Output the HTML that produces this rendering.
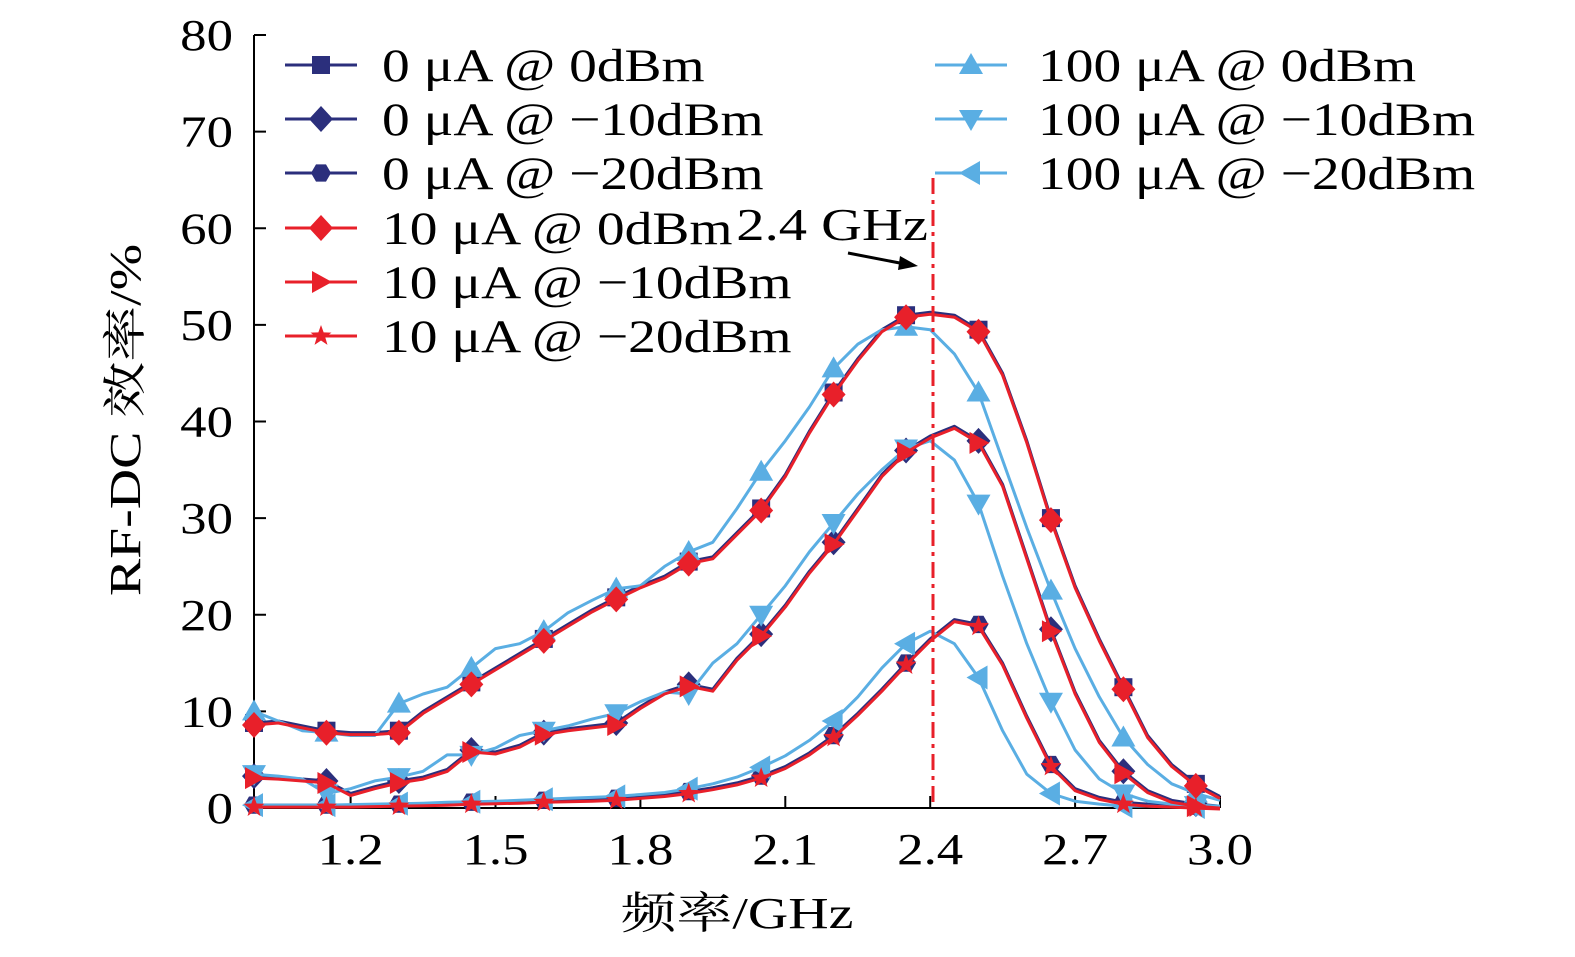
<!DOCTYPE html>
<html><head><meta charset="utf-8"><style>
html,body{margin:0;padding:0;background:#fff;}
svg{display:block;font-family:"Liberation Serif","Noto Serif CJK SC",serif;}
</style></head><body>
<svg id="chart" width="1575" height="957" viewBox="0 0 1575 957"></svg>
<script>
const freqs=[1.0,1.05,1.1,1.15,1.2,1.25,1.3,1.35,1.4,1.45,1.5,1.55,1.6,1.65,1.7,1.75,1.8,1.85,1.9,1.95,2.0,2.05,2.1,2.15,2.2,2.25,2.3,2.35,2.4,2.45,2.5,2.55,2.6,2.65,2.7,2.75,2.8,2.85,2.9,2.95,3.0];
const lowBias0dBm=[8.8,9,8.5,8,7.8,7.8,8,10,11.5,13,14.5,16,17.5,19,20.5,21.8,23,24,25.5,26,28.5,31,34.5,39,43,46.5,49.5,51,51.3,51,49.5,45,38,30,23,17.5,12.5,7.5,4.5,2.5,1.2];
const lowBiasM10=[3.3,3.2,3,2.8,1.5,2.2,2.8,3.2,4,6,5.8,6.5,7.8,8.2,8.5,8.8,10.5,12,12.8,12.3,15.5,18,21,24.5,27.5,31,34.5,37,38.5,39.5,38,33.5,26,18.5,12,7,3.8,1.8,0.8,0.4,0.2];
const lowBiasM20=[0.3,0.3,0.3,0.3,0.3,0.35,0.4,0.45,0.5,0.6,0.65,0.7,0.8,0.85,0.9,1.0,1.2,1.4,1.7,2.1,2.6,3.3,4.3,5.7,7.5,9.8,12.3,15,17.5,19.5,19,15,9.5,4.5,2,1.1,0.6,0.4,0.3,0.2,0.1];
const highBias0dBm=[10,9,8,7.8,7.5,7.5,10.8,11.8,12.5,14.5,16.5,17,18.3,20.2,21.5,22.7,23,25,26.5,27.5,31,34.8,38,41.5,45.5,48,49.5,49.8,49.5,47,43,36,29,22.5,16.5,11.5,7.3,4.5,2.5,1.5,0.8];
const highBiasM10=[3.5,3.3,3,1.5,2,2.8,3.2,3.8,5.5,5.5,6.2,7.5,8,8.5,9.2,9.8,11,12,11.8,15,17,20,23,26.5,29.5,32.5,35,37.2,38,36,31.5,24,17,11,6,3,1.5,0.7,0.4,0.3,0.2];
const highBiasM20=[0.3,0.3,0.3,0.3,0.35,0.4,0.45,0.5,0.6,0.65,0.7,0.8,0.9,1.0,1.1,1.2,1.4,1.6,2.0,2.5,3.2,4.2,5.4,7.0,9,11.5,14.5,17,18.3,17,13.5,8,3.5,1.5,0.7,0.4,0.2,0.2,0.1,0.1,0.1];
const xTicks=[1.2,1.5,1.8,2.1,2.4,2.7,3.0];
const xTickLabels=["1.2","1.5","1.8","2.1","2.4","2.7","3.0"];
const yTicks=[0,10,20,30,40,50,60,70,80];
const yTickLabels=["0","10","20","30","40","50","60","70","80"];
const markerFreqs=[1.0,1.15,1.3,1.45,1.6,1.75,1.9,2.05,2.2,2.35,2.5,2.65,2.8,2.95];

const NS="http://www.w3.org/2000/svg";
const svg=document.getElementById('chart');
const X0=254,X1=1220,Y0=808,Y1=35;
const xs=f=>X0+(f-1.0)/(3.0-1.0)*(X1-X0);
const ys=v=>Y0-v/80*(Y0-Y1);
function mk(t,a,p){const e=document.createElementNS(NS,t);for(const k in a)e.setAttribute(k,a[k]);(p||svg).appendChild(e);return e;}
function interp(arr,f){const i=Math.round((f-1.0)/0.05);return arr[i];}
function stretch(t,k){const w=t.getComputedTextLength();t.setAttribute('textLength',(w*k).toFixed(1));t.setAttribute('lengthAdjust','spacingAndGlyphs');}

// axes
let ax=mk('path',{d:`M${X0},${Y1} L${X0},${Y0} L${X1},${Y0}`,fill:'none',stroke:'#000','stroke-width':2});


yTicks.forEach((v,i)=>{
  const t=mk('line',{x1:X0,x2:X0+12,y1:ys(v),y2:ys(v),stroke:'#000','stroke-width':2});
  
  
  const l=mk('text',{x:233,y:ys(v)+15,'text-anchor':'end','font-size':44});
  l.textContent=yTickLabels[i];
  
  
  stretch(l,1.2);
});
xTicks.forEach((v,i)=>{
  const t=mk('line',{x1:xs(v),x2:xs(v),y1:Y0,y2:Y0-12,stroke:'#000','stroke-width':2});
  
  
  const l=mk('text',{x:xs(v),y:864,'text-anchor':'middle','font-size':44});
  l.textContent=xTickLabels[i];
  
  
  stretch(l,1.2);
});
let yt=mk('text',{x:0,y:0,'text-anchor':'middle','font-size':44,transform:'translate(140,420) rotate(-90)'});
yt.textContent='RF-DC 效率/%';


stretch(yt,1.27);
let xt=mk('text',{x:737,y:928,'text-anchor':'middle','font-size':44});
xt.textContent='频率/GHz';


stretch(xt,1.27);

// markers
function marker(shape,x,y,color,g){
  const s=11;
  let d;
  if(shape==='square')return mk('rect',{x:x-9,y:y-9,width:18,height:18,fill:color},g);
  if(shape==='diamond')d=`M${x},${y-s-2} L${x+s+1},${y} L${x},${y+s+2} L${x-s-1},${y}Z`;
  if(shape==='hex'){d='';for(let k=0;k<6;k++){const a=Math.PI/3*k;d+=(k?'L':'M')+(x+10*Math.cos(a))+','+(y+10*Math.sin(a));}d+='Z';}
  if(shape==='right')d=`M${x+s},${y} L${x-s+2},${y-s} L${x-s+2},${y+s}Z`;
  if(shape==='star'){d='';for(let k=0;k<10;k++){const r=k%2?4.5:11;const a=-Math.PI/2+Math.PI/5*k;d+=(k?'L':'M')+(x+r*Math.cos(a))+','+(y+r*Math.sin(a));}d+='Z';}
  if(shape==='up')d=`M${x},${y-s-1} L${x+s+1},${y+s-2} L${x-s-1},${y+s-2}Z`;
  if(shape==='down')d=`M${x},${y+s+1} L${x+s+1},${y-s+2} L${x-s-1},${y-s+2}Z`;
  if(shape==='left')d=`M${x-s-1},${y} L${x+s-2},${y-s-1} L${x+s-2},${y+s+1}Z`;
  return mk('path',{d:d,fill:color},g);
}
const NAVY='#2b2f7c',RED='#e8202a',LB='#5aaee3';
const series=[
 {name:'0ua-0dbm',data:lowBias0dBm,color:NAVY,shape:'square',dy:0},
 {name:'0ua-m10dbm',data:lowBiasM10,color:NAVY,shape:'diamond',dy:0},
 {name:'0ua-m20dbm',data:lowBiasM20,color:NAVY,shape:'hex',dy:0},
 {name:'100ua-0dbm',data:highBias0dBm,color:LB,shape:'up',dy:0},
 {name:'100ua-m10dbm',data:highBiasM10,color:LB,shape:'down',dy:0},
 {name:'100ua-m20dbm',data:highBiasM20,color:LB,shape:'left',dy:0},
 {name:'10ua-0dbm',data:lowBias0dBm,color:RED,shape:'diamond',dy:2},
 {name:'10ua-m10dbm',data:lowBiasM10,color:RED,shape:'right',dy:2},
 {name:'10ua-m20dbm',data:lowBiasM20,color:RED,shape:'star',dy:2}
];
series.forEach(s=>{
  const g=mk('g',{});
  
  
  const d=freqs.map((f,i)=>(i?'L':'M')+xs(f).toFixed(1)+','+(ys(s.data[i])+s.dy).toFixed(1)).join(' ');
  const p=mk('path',{d:d,fill:'none',stroke:s.color,'stroke-width':3,'stroke-linejoin':'round'},g);
  
  
  markerFreqs.forEach(f=>{
    const m=marker(s.shape,xs(f),ys(interp(s.data,f))+s.dy,s.color,g);
    
    
  });
});

// 2.4 GHz reference line
let vl=mk('line',{x1:933,x2:933,y1:178,y2:Y0,stroke:RED,'stroke-width':3,'stroke-dasharray':'16,6,4,6'});


let at=mk('text',{x:928,y:240,'font-size':46,'text-anchor':'end'});
at.textContent='2.4 GHz';


stretch(at,1.23);
let ar=mk('line',{x1:848,y1:253,x2:905,y2:264,stroke:'#000','stroke-width':3});


let ah=mk('path',{d:'M918,266 L900,256 L898,270Z',fill:'#000'});



// legend
const legend=[
 {x:285,y:65,shape:'square',color:NAVY,label:'0 μA @ 0dBm'},
 {x:285,y:119,shape:'diamond',color:NAVY,label:'0 μA @ −10dBm'},
 {x:285,y:173,shape:'hex',color:NAVY,label:'0 μA @ −20dBm'},
 {x:285,y:228,shape:'diamond',color:RED,label:'10 μA @ 0dBm'},
 {x:285,y:282,shape:'right',color:RED,label:'10 μA @ −10dBm'},
 {x:285,y:336,shape:'star',color:RED,label:'10 μA @ −20dBm'},
 {x:935,y:65,shape:'up',color:LB,label:'100 μA @ 0dBm'},
 {x:935,y:119,shape:'down',color:LB,label:'100 μA @ −10dBm'},
 {x:935,y:173,shape:'left',color:LB,label:'100 μA @ −20dBm'}
];
legend.forEach(e=>{
  const g=mk('g',{});
  
  
  mk('line',{x1:e.x,x2:e.x+72,y1:e.y,y2:e.y,stroke:e.color,'stroke-width':3},g);
  marker(e.shape,e.x+36,e.y,e.color,g);
  const t=mk('text',{x:e.x+(e.x<500?97:103),y:e.y+16,'font-size':47},g);
  t.textContent=e.label;
  stretch(t,1.18);
});
</script>
</body></html>
